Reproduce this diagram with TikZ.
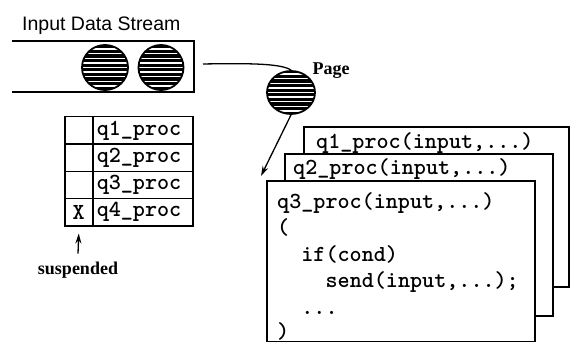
\documentclass[tikz,border=0pt]{standalone}
\usepackage{fontspec}
\setmainfont{Liberation Serif}
\setsansfont{Liberation Sans}
\newfontfamily\codefont{Latin Modern Mono Light}
\usetikzlibrary{shapes.geometric,arrows.meta}
\begin{document}
\begin{tikzpicture}[x=1pt,y=-1pt,
  disk/.style={ellipse, inner sep=0pt, fill=black, draw=black, line width=1.8pt,
    path picture={\foreach \k in {-6,...,6}{\draw[white,line width=1.3pt] ([shift={(-40pt,\k*4.6pt)}]path picture bounding box.center) -- ++(80pt,0pt);}}},
  codebox/.style={draw, line width=1.6pt, fill=white, inner sep=0pt, anchor=north west},
  codetext/.style={anchor=base west, inner sep=0pt, font=\fontsize{23}{26}\selectfont\codefont\bfseries},
  lcell/.style={draw, line width=1.5pt, minimum width=28pt, minimum height=27.25pt, inner sep=0pt, anchor=north west, font=\fontsize{23}{26}\selectfont\codefont\bfseries},
  rcell/.style={draw, line width=1.5pt, text width=92pt, inner xsep=4pt, inner ysep=0pt, minimum height=27.25pt, align=left, anchor=north west, font=\fontsize{23}{26}\selectfont\codefont\bfseries},
  boldlabel/.style={inner sep=0pt, font=\fontsize{18}{20}\selectfont\bfseries},
  conn/.style={line width=1.3pt},
  tip/.style={-{Stealth[length=10pt,width=6pt]}}
]
\useasboundingbox (0,0) rectangle (570,342);

% title
\node[anchor=base west, inner sep=0pt, font=\fontsize{19.5}{22}\selectfont\sffamily] (title) at (22,31) {Input Data Stream};

% input stream box (open on the left)
\draw[line width=1.6pt] (12,41) -- (194,41) -- (194,92) -- (12,92);
\node[disk, minimum width=46pt, minimum height=45pt] (d1) at (105,67.5) {};
\node[disk, minimum width=45pt, minimum height=45pt] (d2) at (161,67.5) {};
\coordinate (streamout) at (203,64);

% page
\node[disk, minimum width=48pt, minimum height=43pt] (page) at (291,92.5) {};
\node[boldlabel] (pagelbl) at (331,71) {Page};
\draw[conn] (streamout) .. controls (255,63) and (282,64) .. (page.north);

% code boxes
\node[codebox, minimum width=265pt, minimum height=160pt] (b1) at (303,126) {};
\node[codetext] (t1) at (316,148) {q1\_proc(input,...)};
\node[codebox, minimum width=268pt, minimum height=162pt] (b2) at (284,153) {};
\node[codetext] (t2) at (293,175) {q2\_proc(input,...)};
\node[codebox, minimum width=268pt, minimum height=161pt] (b3) at (266,180) {};
\node[codetext] (l1) at (277,208) {q3\_proc(input,...)};
\node[codetext] (l2) at (277,234.5) {(};
\node[codetext] (l3) at (301.2,261) {if(cond)};
\node[codetext] (l4) at (325.4,287.5) {send(input,...);};
\node[codetext] (l5) at (301.2,314) {...};
\node[codetext] (l6) at (277,338) {)};

\coordinate (pagetip) at (261,176);
\draw[conn, tip] (page.south) -- (pagetip);

% process table
\node[lcell] (x1) at (64,116) {};
\node[rcell] (p1) at (92,116) {q1\_proc};
\node[lcell] (x2) at (64,143.25) {};
\node[rcell] (p2) at (92,143.25) {q2\_proc};
\node[lcell] (x3) at (64,170.5) {};
\node[rcell] (p3) at (92,170.5) {q3\_proc};
\node[lcell] (x4) at (64,197.75) {X};
\node[rcell] (p4) at (92,197.75) {q4\_proc};

\node[boldlabel] (susp) at (78,270) {suspended};
\draw[conn, tip] ([yshift=8pt]susp.north) -- ([yshift=-7pt]x4.south);
\end{tikzpicture}
\end{document}
